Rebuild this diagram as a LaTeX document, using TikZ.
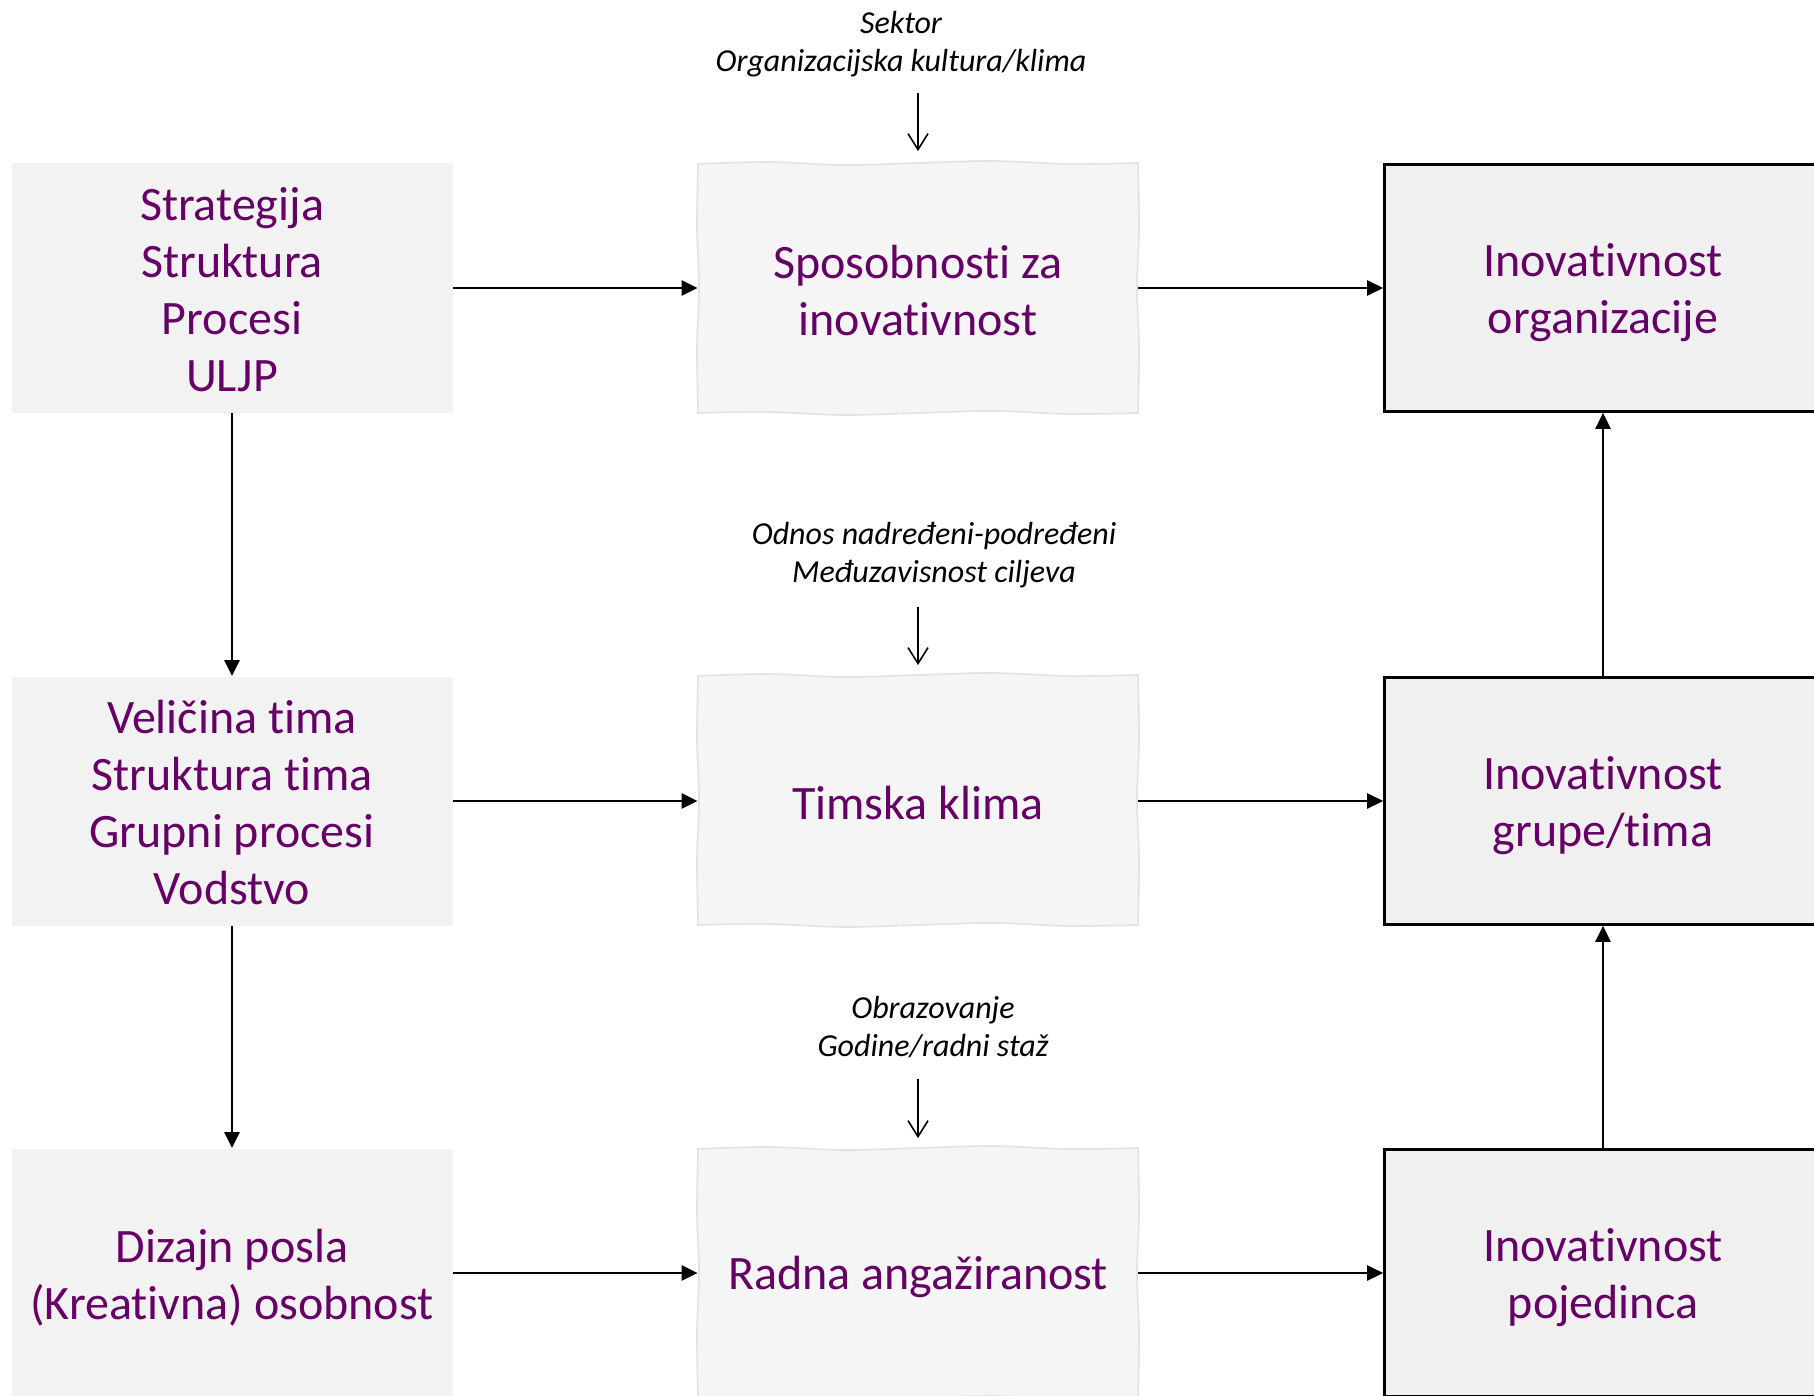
\documentclass[tikz,border=0pt]{standalone}
\usepackage{fontspec}
\setmainfont{Carlito}[Ligatures=NoCommon]
\usetikzlibrary{arrows.meta}
\definecolor{txtpurple}{RGB}{102,0,102}
\definecolor{boxgray}{RGB}{242,242,242}
\definecolor{wavefill}{RGB}{245,245,245}
\definecolor{waveline}{RGB}{226,226,226}
\definecolor{rightfill}{RGB}{240,240,240}
\newcommand{\wavyoutline}[1]{%
  \begin{scope}[shift={(#1.center)}]
    \filldraw[wavestyle]
      plot[smooth, tension=0.6] coordinates {(-220,-124) (-150,-126) (-75,-123) (0,-125) (75,-127) (150,-124) (220,-125)}
      -- plot[smooth, tension=0.6] coordinates {(220,-125) (221,-60) (219,0) (221,60) (220,125)}
      -- plot[smooth, tension=0.6] coordinates {(220,125) (150,126) (75,123) (0,125) (-75,127) (-150,124) (-220,125)}
      -- plot[smooth, tension=0.6] coordinates {(-220,125) (-221,60) (-219,0) (-221,-60) (-220,-124)}
      -- cycle;
  \end{scope}}
\begin{document}
\begin{tikzpicture}[x=0.5pt,y=-0.5pt,
  maintext/.style={text=txtpurple, align=center, font=\fontsize{24}{28.5}\selectfont, inner sep=0pt},
  leftbox/.style={fill=boxgray, minimum width=220.5pt, minimum height=124.5pt, inner sep=0pt},
  midbox/.style={minimum width=220pt, minimum height=124.5pt, inner sep=0pt},
  wavestyle/.style={fill=wavefill, draw=waveline, line width=0.8pt},
  rightbox/.style={fill=rightfill, draw=black, line width=1.3pt, minimum width=218.5pt, minimum height=123.5pt, inner sep=0pt},
  flow/.style={-{Triangle[length=8pt,width=7.5pt]}, line width=1.2pt},
  annot/.style={font=\itshape\fontsize{16}{19.3}\selectfont, align=center, inner sep=0pt},
  annarrow/.style={-{Straight Barb[length=8pt,width=10pt]}, line width=0.8pt}
]
\useasboundingbox (0,0) rectangle (1814,1396);
\clip (0,0) rectangle (1814,1396);
\fill[white] (0,0) rectangle (1814,1396);

% left column
\node[leftbox] (L1) at (232,288) {};
\node[leftbox] (L2) at (232,801) {};
\node[leftbox] (L3) at (232,1273) {};
\node[maintext] (L1t) at ([yshift=-1pt]L1.center) {Strategija\\Struktura\\Procesi\\ULJP};
\node[maintext] (L2t) at ([yshift=-1pt]L2.center) {Veličina tima\\Struktura tima\\Grupni procesi\\Vodstvo};
\node[maintext] (L3t) at ([yshift=-2.5pt]L3.center) {Dizajn posla\\(Kreativna) osobnost};

% middle column
\node[midbox] (M1) at (918,288) {};
\node[midbox] (M2) at (918,800) {};
\node[midbox] (M3) at (918,1273) {};
\wavyoutline{M1}
\wavyoutline{M2}
\wavyoutline{M3}
\node[maintext] (M1t) at ([yshift=-1.5pt]M1.center) {Sposobnosti za\\inovativnost};
\node[maintext] (M2t) at ([yshift=-1.5pt]M2.center) {Timska klima};
\node[maintext] (M3t) at ([yshift=-2pt]M3.center) {Radna angažiranost};

% right column
\node[rightbox] (R1) at (1603,288) {};
\node[rightbox] (R2) at (1603,801) {};
\node[rightbox] (R3) at (1603,1273) {};
\node[maintext] (R1t) at ([yshift=-2.5pt]R1.center) {Inovativnost\\organizacije};
\node[maintext] (R2t) at ([yshift=-2.5pt]R2.center) {Inovativnost\\grupe/tima};
\node[maintext] (R3t) at ([yshift=-2.5pt]R3.center) {Inovativnost\\pojedinca};

% annotations
\node[annot] (A1) at (901,44) {Sektor\\Organizacijska kultura/klima};
\node[annot] (A2) at (934,555) {Odnos nadređeni-podređeni\\Međuzavisnost ciljeva};
\node[annot] (A3) at (933,1027) {Obrazovanje\\Godine/radni staž};

\coordinate (S1) at (918,93);
\coordinate (S2) at (918,607);
\coordinate (S3) at (918,1079);

\draw[annarrow, shorten >=6pt] (S1) -- (M1.north);
\draw[annarrow, shorten >=5pt] (S2) -- (M2.north);
\draw[annarrow, shorten >=5pt] (S3) -- (M3.north);

% flows
\draw[flow] (L1.east) -- (M1.west);
\draw[flow] (L2.east) -- (M2.west |- L2.east);
\draw[flow] (L3.east) -- (M3.west);
\draw[flow] (M1.east) -- (R1.west);
\draw[flow] (M2.east |- R2.west) -- (R2.west);
\draw[flow] (M3.east) -- (R3.west);
\draw[flow] (L1.south) -- (L2.north);
\draw[flow] (L2.south) -- (L3.north);
\draw[flow] (R2.north) -- (R1.south);
\draw[flow] (R3.north) -- (R2.south);
\end{tikzpicture}
\end{document}
